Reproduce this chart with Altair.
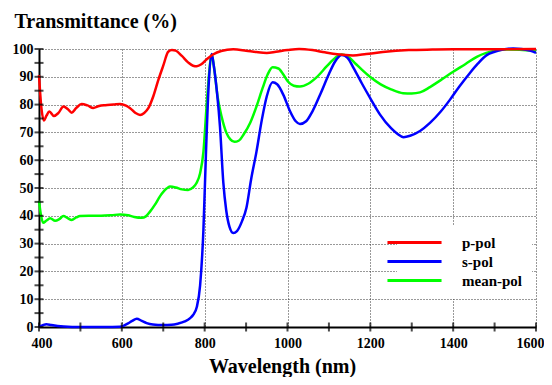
import altair as alt
import pandas as pd

# ---- data ----
p_wl = [400, 405, 412, 418, 425, 436, 447, 459, 470, 479, 490, 503, 517, 531, 545, 560, 580, 596,
        610, 620, 633, 644, 654, 664, 676, 688, 700, 712, 721, 730, 745, 760, 772, 781, 792, 805,
        820, 840, 869, 900, 925, 950, 972, 1000, 1028, 1060, 1090, 1120, 1158, 1190, 1230, 1293,
        1350, 1400, 1500, 1600]
p_T = [90.6, 80.0, 74.3, 76.0, 77.5, 75.9, 77.0, 79.3, 78.3, 77.1, 78.8, 80.2, 79.7, 78.8, 79.5,
       79.8, 80.0, 80.2, 79.6, 78.7, 77.0, 76.3, 77.0, 78.7, 83.0, 88.8, 94.0, 99.0, 99.6, 99.4,
       97.5, 95.2, 94.0, 93.8, 94.5, 96.3, 98.0, 99.3, 99.9, 99.4, 98.9, 98.6, 99.0, 99.6, 100.0,
       99.6, 98.8, 98.1, 97.7, 98.2, 98.9, 99.6, 99.8, 99.9, 99.9, 100.0]

s_wl = [400, 408, 418, 430, 445, 460, 500, 560, 595, 605, 615, 625, 636, 648, 660, 675, 700, 720,
        735, 752, 765, 772, 781, 789, 797, 803, 810, 817, 822, 830, 837, 845, 852, 860, 869, 878,
        890, 901, 912, 925, 938, 950, 964, 975, 990, 1005, 1020, 1030, 1045, 1060, 1080, 1100,
        1115, 1131, 1145, 1160, 1180, 1199, 1223, 1250, 1265, 1280, 1296, 1320, 1344, 1370, 1392,
        1415, 1440, 1460, 1481, 1500, 1520, 1545, 1565, 1585, 1600]
s_T = [0.2, 0.6, 1.0, 0.7, 0.4, 0.2, 0.0, 0.0, 0.1, 0.5, 1.3, 2.2, 3.0, 2.2, 1.4, 0.9, 0.7, 0.8,
       1.2, 2.0, 3.2, 4.3, 7.2, 15.0, 35.0, 62.0, 88.0, 98.2, 94.0, 84.0, 72.0, 52.0, 42.0, 36.0,
       33.8, 34.5, 38.0, 43.0, 53.0, 63.0, 74.5, 83.0, 88.0, 87.3, 83.5, 78.0, 74.0, 73.0, 74.0,
       77.5, 84.0, 91.0, 95.5, 97.8, 96.8, 93.0, 87.5, 82.5, 76.5, 71.5, 69.5, 68.3, 68.8, 70.5,
       73.4, 77.5, 81.7, 86.5, 91.3, 94.8, 97.8, 99.0, 99.8, 100.2, 100.0, 99.4, 98.6]

m_wl = [400, 405, 410, 418, 427, 439, 449, 459, 469, 479, 490, 499, 520, 550, 575, 596, 615, 630,
        648, 658, 668, 680, 692, 708, 716, 730, 745, 760, 772, 780, 789, 797, 804, 810, 817, 823,
        831, 841, 852, 862, 872, 882, 895, 910, 925, 940, 952, 964, 978, 990, 1001, 1015, 1030,
        1050, 1070, 1095, 1115, 1131, 1145, 1165, 1180, 1199, 1225, 1250, 1279, 1300, 1320, 1344,
        1370, 1400, 1430, 1457, 1480, 1505, 1530, 1560, 1600]
m_T = [45.4, 40.0, 37.5, 38.3, 39.1, 38.2, 38.8, 39.9, 39.2, 38.5, 39.4, 39.9, 40.0, 40.0, 40.2,
       40.5, 40.2, 39.6, 39.3, 39.8, 41.5, 44.0, 47.0, 49.8, 50.5, 50.2, 49.5, 49.3, 50.2, 51.7,
       55.3, 63.0, 78.0, 90.0, 98.0, 93.0, 83.0, 75.6, 70.0, 67.5, 66.6, 67.0, 69.5, 73.5, 79.3,
       86.0, 90.8, 93.4, 93.0, 90.8, 88.3, 86.8, 86.5, 87.5, 89.8, 93.8, 96.8, 98.0, 97.4, 94.6,
       92.5, 90.0, 87.3, 85.5, 84.1, 84.0, 84.4, 86.3, 88.8, 91.8, 94.6, 97.2, 98.6, 99.5, 99.8,
       99.7, 99.2]

series_names = ["p-pol", "s-pol", "mean-pol"]
series_colors = ["#ff0000", "#0000ff", "#00ff00"]

x_label_values = [400, 600, 800, 1000, 1200, 1400, 1600]
y_label_values = [0, 10, 20, 30, 40, 50, 60, 70, 80, 90, 100]
x_tick_values = [400, 500, 600, 700, 800, 900, 1000, 1100, 1200, 1300, 1400, 1500, 1600]
y_tick_values = [0, 5, 10, 15, 20, 25, 30, 35, 40, 45, 50, 55, 60, 65, 70, 75, 80, 85, 90, 95, 100]

# ---- tables ----
curves = pd.concat([
    pd.DataFrame({"wl": m_wl, "T": m_T, "series": "mean-pol"}),
    pd.DataFrame({"wl": s_wl, "T": s_T, "series": "s-pol"}),
    pd.DataFrame({"wl": p_wl, "T": p_T, "series": "p-pol"}),
], ignore_index=True)
xticks = pd.DataFrame({"wl": x_tick_values})
yticks = pd.DataFrame({"T": y_tick_values})

FONT = "Liberation Serif"

x_scale = alt.Scale(domain=[400, 1600], nice=False, zero=False)
y_scale = alt.Scale(domain=[0, 100], nice=False)

x_axis = alt.Axis(
    values=x_label_values, grid=True, ticks=False, format="d", labelOverlap=False,
    labelFlush=True, labelFlushOffset=8, tickCount=7,
    domainColor="black", domainWidth=2, labelPadding=9,
    labelFont=FONT, labelFontSize=14, labelFontWeight="bold", labelColor="black",
    gridColor="#333333", gridDash=[1, 2], gridWidth=1, gridOpacity=1,
    title="Wavelength (nm)", titleFont=FONT, titleFontSize=20, titleFontWeight="bold",
    titleColor="black", titleX=243, titleY=45, titleBaseline="alphabetic")
y_axis = alt.Axis(
    values=y_label_values, grid=True, ticks=False, labelOverlap=False, labelFlush=False,
    tickCount=11,
    domainColor="black", domainWidth=2, labelPadding=6,
    labelFont=FONT, labelFontSize=14, labelFontWeight="bold", labelColor="black",
    gridColor="#333333", gridDash=[1, 2], gridWidth=1, gridOpacity=1,
    title="Transmittance (%)", titleFont=FONT, titleFontSize=20, titleFontWeight="bold",
    titleColor="black", titleAngle=0, titleX=-25, titleY=-22, titleAlign="left",
    titleBaseline="alphabetic")

lines = alt.Chart(curves).mark_line(strokeWidth=2.5, interpolate="monotone").encode(
    x=alt.X("wl:Q", scale=x_scale, axis=x_axis),
    y=alt.Y("T:Q", scale=y_scale, axis=y_axis),
    color=alt.Color("series:N", scale=alt.Scale(domain=series_names, range=series_colors),
                    legend=alt.Legend(
                        title=None, orient="none", legendX=358, legendY=176,
                        fillColor="white", padding=10, rowPadding=3,
                        symbolType="M-5,0H5", symbolSize=117, symbolStrokeWidth=3,
                        labelFont=FONT, labelFontSize=15, labelFontWeight="bold",
                        labelColor="black", labelOffset=40)),
)

xtick_marks = alt.Chart(xticks).mark_tick(orient="vertical", size=9, thickness=2, color="black").encode(
    x=alt.X("wl:Q", scale=x_scale, axis=x_axis),
    y=alt.datum(0),
)
ytick_marks = alt.Chart(yticks).mark_tick(orient="horizontal", size=9, thickness=2, color="black").encode(
    y=alt.Y("T:Q", scale=y_scale, axis=y_axis),
    x=alt.datum(400),
)

chart = alt.layer(lines, xtick_marks, ytick_marks).properties(
    width=497, height=278,
    autosize=alt.AutoSizeParams(type="none"),
    padding={"left": 31, "top": 41, "right": 8, "bottom": 50},
    background="white",
).configure_view(stroke=None)

chart.save("out.html", embed_options={"renderer": "svg", "actions": False})
